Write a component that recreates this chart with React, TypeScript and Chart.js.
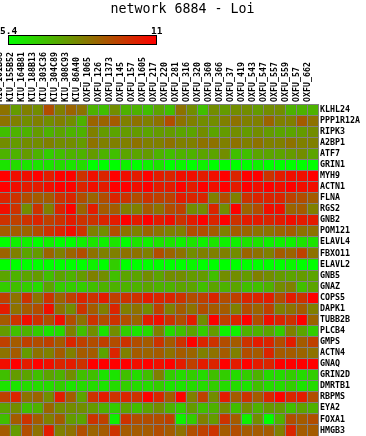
import React, { useEffect, useRef } from "react";
import { Chart, registerables } from "chart.js";

Chart.register(...registerables);

const TITLE = "network 6884 - Loi";
const SCALE_MIN = 5.4;
const SCALE_MAX = 11;
const scaleLabels = ["5.4", "11"];

const columns = [
  "KIU_101B88", "KIU_155B52", "KIU_164B81", "KIU_188B13", "KIU_303C36", "KIU_304C89",
  "KIU_308C93", "KIU_86A40", "OXFU_1065", "OXFU_126", "OXFU_1373", "OXFU_145",
  "OXFU_157", "OXFU_1605", "OXFU_217", "OXFU_220", "OXFU_281", "OXFU_316",
  "OXFU_320", "OXFU_360", "OXFU_366", "OXFU_37", "OXFU_419", "OXFU_543",
  "OXFU_547", "OXFU_557", "OXFU_559", "OXFU_57", "OXFU_662",
];

const genes = [
  "KLHL24", "PPP1R12A", "RIPK3", "A2BP1", "ATF7", "GRIN1", "MYH9", "ACTN1", "FLNA", "RGS2",
  "GNB2", "POM121", "ELAVL4", "FBXO11", "ELAVL2", "GNB5", "GNAZ", "COPS5", "DAPK1", "TUBB2B",
  "PLCB4", "GMPS", "ACTN4", "GNAQ", "GRIN2D", "DMRTB1", "RBPMS", "EYA2", "FOXA1", "HMGB3",
];

const KLHL24 = [8.5,7.6,8.2,7.9,9.3,8.2,8.8,8.5,7.1,6.8,7.9,7.1,7.1,6.8,7.4,6.8,8.5,7.9,6.8,7.9,7.6,7.9,7.9,7.6,7.9,7.9,7.1,7.1,7.1];
const PPP1R12A = [8.5,8.2,7.9,8.2,7.9,8.2,7.9,7.1,8.8,8.8,9.0,8.2,8.5,8.2,8.5,9.3,8.5,8.2,7.9,7.9,8.2,8.5,8.2,8.2,8.8,8.2,8.2,9.0,8.5];
const RIPK3 = [6.8,7.1,7.1,7.6,7.1,7.4,7.1,7.1,8.2,7.6,7.4,7.6,7.6,7.4,7.6,7.6,7.4,7.4,7.9,7.4,7.6,7.9,7.6,7.9,7.6,7.4,7.4,7.6,7.9];
const A2BP1 = [7.9,7.6,7.9,7.9,8.2,7.9,7.9,7.6,8.5,8.2,8.2,8.2,8.5,8.2,8.2,8.5,8.2,8.2,8.5,8.5,8.2,8.5,8.2,8.5,8.2,8.2,8.5,8.2,8.2];
const ATF7 = [7.1,7.1,7.6,7.1,6.5,6.8,7.1,7.1,7.6,7.1,6.8,7.4,7.4,7.6,7.1,6.8,7.1,7.1,7.4,7.4,7.9,6.8,6.8,7.4,7.4,7.4,7.6,7.9,7.4];
const GRIN1 = [6.0,6.2,6.0,6.0,6.0,6.2,6.0,6.2,5.4,5.4,5.4,5.7,5.4,5.7,6.0,5.4,5.6,5.4,5.7,5.4,5.4,5.4,5.4,5.7,5.4,5.4,5.4,5.4,5.4];
const MYH9 = [11,10.7,10.7,11,10.4,11,11,9.9,10.7,10.2,11,10.7,10.4,11,10.4,10.2,10.7,10.7,10.4,10.7,11,10.2,11,11,9.9,10.4,10.7,10.7,11];
const ACTN1 = [11,10.7,10.4,10.4,10.7,11,11,10.2,10.7,10.4,11,11,10.7,11,10.4,10.4,11,10.4,11,10.7,11,10.4,11,10.7,11,10.7,11,10.7,10.7];
const FLNA = [10.2,9.9,9.3,9.0,9.0,9.9,10.2,9.3,8.8,9.3,10.2,9.9,9.3,9.9,9.6,9.6,10.4,10.2,10.2,8.2,9.3,8.2,9.9,10.2,10.2,10.2,9.6,9.3,9.0];
const RGS2 = [10.7,9.9,7.9,9.9,8.2,10.2,11,8.8,10.4,9.0,9.0,8.2,8.2,9.0,8.5,9.3,9.6,7.9,7.9,10.2,7.9,11,8.8,9.3,10.7,10.7,8.8,9.0,8.2];
const GNB2 = [9.9,9.6,9.9,10.2,9.6,9.9,10.4,9.9,9.9,10.2,10.4,11,10.4,11,10.4,10.7,9.9,10.4,11,10.2,11,9.9,10.4,10.4,10.2,10.4,10.7,10.4,10.4];
const POM121 = [9.0,9.0,8.8,9.3,9.9,10.2,10.7,9.9,8.2,7.9,9.3,8.5,8.2,8.8,8.5,8.2,8.2,9.3,9.3,9.0,8.2,9.0,8.8,8.5,8.5,8.8,9.0,8.5,8.5];
const ELAVL4 = [5.4,5.7,5.7,5.4,5.7,5.4,5.4,5.7,6.0,5.7,6.0,5.4,6.0,5.7,6.0,6.0,5.7,6.0,5.7,6.0,5.7,5.7,6.0,6.0,5.7,5.7,5.7,6.0,6.0];
const FBXO11 = [8.8,8.2,7.4,7.6,8.8,8.2,8.8,9.3,8.5,8.2,8.2,8.5,8.5,8.2,9.3,8.8,8.5,7.9,8.2,8.2,8.2,7.9,8.8,8.5,8.2,9.0,8.8,9.6,8.5];
const ELAVL2 = [5.4,5.4,5.4,5.4,5.4,5.4,5.4,5.4,5.7,5.4,6.5,5.4,5.4,5.4,5.4,5.4,5.4,5.6,5.4,5.4,5.4,5.4,5.4,5.4,5.4,5.4,5.6,5.4,5.4];
const GNB5 = [7.4,7.1,7.4,7.6,6.8,7.4,7.1,7.6,8.2,7.9,6.8,7.4,7.4,7.9,7.4,7.9,7.9,7.6,7.6,6.8,7.9,7.9,7.6,8.2,7.9,7.6,7.4,7.6,7.4];
const GNAZ = [6.5,6.8,6.5,6.2,7.4,6.5,6.5,6.5,6.8,7.1,7.1,7.1,7.1,7.4,7.1,7.1,7.4,7.4,6.8,7.4,7.1,7.4,6.8,6.8,7.1,7.9,8.2,6.8,7.4];
const COPS5 = [9.6,8.5,9.9,8.5,9.9,8.8,9.6,10.2,9.9,10.4,9.6,9.9,9.9,10.4,10.2,10.2,9.9,9.3,9.6,10.2,9.3,9.6,10.2,10.2,10.4,9.3,10.4,9.9,11];
const DAPK1 = [10.4,8.5,9.0,9.3,10.7,8.5,7.9,9.9,9.0,8.2,10.2,8.2,8.5,7.9,9.6,8.2,9.0,8.5,9.3,9.0,9.0,8.2,9.3,8.8,9.6,8.2,8.5,9.0,8.2];
const TUBB2B = [9.0,9.9,10.7,9.9,9.3,10.7,9.3,8.5,9.9,9.3,9.9,9.3,8.8,10.4,10.7,9.9,9.3,10.4,7.9,11,9.6,10.2,11,9.3,10.7,10.2,9.9,11,8.8];
const PLCB4 = [7.6,6.8,7.1,6.5,6.0,6.2,8.2,6.8,7.9,6.0,7.9,6.5,6.0,6.2,8.2,6.2,6.8,7.4,6.5,7.6,5.7,5.7,7.1,7.1,7.4,6.5,8.2,7.4,6.5];
const GMPS = [9.6,9.0,9.6,9.3,9.6,9.0,10.2,9.6,9.3,9.6,9.3,9.9,9.3,9.0,9.9,9.0,9.9,11,10.2,9.9,9.3,9.0,9.9,10.4,10.2,9.3,10.4,9.0,9.6];
const ACTN4 = [8.5,9.0,7.6,8.5,8.2,9.0,8.2,9.0,9.0,7.4,10.2,8.2,9.0,8.8,9.0,8.5,9.0,8.8,8.2,8.5,9.0,8.2,9.3,9.0,10.2,9.0,9.0,8.8,8.5];
const GNAQ = [10.7,11,10.4,11,10.7,10.2,10.4,9.9,11,11,11,11,10.7,11,10.7,11,10.4,9.6,10.4,10.2,11,10.4,11,10.4,10.2,11,11,11,11];
const GRIN2D = [6.8,7.6,7.4,6.8,7.4,7.1,7.9,6.8,6.8,6.0,6.0,6.8,6.2,6.8,8.2,6.5,6.2,6.5,6.2,6.8,6.5,6.2,6.5,7.1,6.2,6.2,6.5,6.2,6.5];
const DMRTB1 = [6.0,6.0,6.2,6.2,6.2,6.5,6.0,6.2,6.2,6.0,6.2,6.5,6.2,6.2,6.5,6.0,6.0,6.2,6.2,6.5,6.2,6.2,6.0,6.8,6.2,6.2,6.5,6.0,6.2];
const RBPMS = [9.6,10.2,8.5,8.8,7.9,10.4,9.0,7.4,9.9,10.4,9.9,10.2,9.9,11,10.2,9.0,11,8.2,9.6,7.9,10.4,9.0,9.9,9.0,10.2,11,10.2,10.4,9.3];
const EYA2 = [7.4,7.9,6.8,7.1,8.8,7.9,7.9,7.9,7.6,7.1,6.5,7.4,6.8,7.4,7.9,7.1,6.5,7.6,6.8,7.1,7.9,6.8,7.9,7.1,7.6,7.6,6.8,7.4,7.1];
const FOXA1 = [6.8,9.0,9.9,9.0,8.2,9.0,7.6,7.4,9.9,9.6,5.7,9.9,9.3,9.3,9.3,9.6,5.7,6.5,8.2,7.6,9.9,9.0,5.7,7.9,5.4,7.1,9.3,9.0,9.3];
const HMGB3 = [9.0,7.6,9.3,8.5,10.4,8.2,8.5,9.3,8.8,9.0,9.9,9.0,9.0,9.0,9.3,9.0,8.5,9.3,9.6,9.9,9.0,9.3,9.0,9.0,9.0,8.2,10.2,9.0,9.0];

const rows = [
  KLHL24, PPP1R12A, RIPK3, A2BP1, ATF7, GRIN1, MYH9, ACTN1, FLNA, RGS2,
  GNB2, POM121, ELAVL4, FBXO11, ELAVL2, GNB5, GNAZ, COPS5, DAPK1, TUBB2B,
  PLCB4, GMPS, ACTN4, GNAQ, GRIN2D, DMRTB1, RBPMS, EYA2, FOXA1, HMGB3,
];

function heatColor(v: number): string {
  let t = (v - SCALE_MIN) / (SCALE_MAX - SCALE_MIN);
  t = Math.max(0, Math.min(1, t));
  const r = Math.round(255 * t);
  const g = Math.round(255 * (1 - t));
  return `rgb(${r},${g},0)`;
}

const MONO = "'DejaVu Sans Mono', 'Liberation Mono', monospace";
const GRID_GRAY = "#808080";
const LABEL_FONT = { family: MONO, size: 8.3, weight: "bold", lineHeight: "10px" } as any;

function noPad(s: any) {
  s.paddingLeft = 0;
  s.paddingRight = 0;
  s.paddingTop = 0;
  s.paddingBottom = 0;
}

export default function App() {
  const ref = useRef<HTMLCanvasElement>(null);

  useEffect(() => {
    document.body.style.margin = "0";
    const canvas = ref.current;
    if (!canvas) return;
    const ctx = canvas.getContext("2d");
    if (!ctx) return;

    const colorbarPlugin = {
      id: "colorbar",
      afterDraw(chart: any) {
        const c = chart.ctx as CanvasRenderingContext2D;
        c.save();
        const x0 = 9;
        const x1 = 157;
        const y0 = 35;
        const y1 = 44;
        const grad = c.createLinearGradient(x0, 0, x1, 0);
        grad.addColorStop(0, heatColor(SCALE_MIN));
        grad.addColorStop(1, heatColor(SCALE_MAX));
        c.fillStyle = grad;
        c.fillRect(x0, y0, x1 - x0, y1 - y0);
        c.strokeStyle = "#000";
        c.lineWidth = 1;
        c.strokeRect(x0 + 0.5, y0 + 0.5, x1 - x0, y1 - y0);
        c.fillStyle = "#000";
        c.font = `bold 9.5px ${MONO}`;
        c.textBaseline = "alphabetic";
        c.textAlign = "left";
        c.fillText(scaleLabels[0], 1, 33.5);
        c.fillText(scaleLabels[1], 152, 33.5);
        c.restore();
      },
    };

    const chart = new Chart(ctx, {
      type: "bar",
      data: {
        labels: columns,
        datasets: genes.map((g, j) => ({
          label: g,
          data: columns.map(() => [j, j + 1]) as any,
          backgroundColor: rows[j].map(heatColor),
          borderWidth: 0,
          grouped: false,
          barPercentage: 1,
          categoryPercentage: 1,
          yAxisID: "y",
          xAxisID: "x",
        })),
      },
      options: {
        responsive: false,
        animation: false,
        devicePixelRatio: 1,
        layout: { padding: 0 },
        events: [],
        plugins: {
          legend: { display: false },
          tooltip: { enabled: false },
          title: {
            display: true,
            text: TITLE,
            color: "#000",
            font: { family: MONO, size: 13.3, weight: "normal", lineHeight: "16px" } as any,
            padding: { top: 2, bottom: 0 },
          },
        },
        scales: {
          x: {
            type: "category",
            position: "top",
            offset: true,
            grid: { display: true, offset: true, color: GRID_GRAY, lineWidth: 1, drawTicks: false, z: 1 } as any,
            border: { display: false },
            ticks: {
              minRotation: 90,
              maxRotation: 90,
              autoSkip: false,
              padding: 2,
              labelOffset: 5,
              color: "#000",
              font: LABEL_FONT,
            },
            afterFit: (s: any) => {
              s.height = 86;
              noPad(s);
            },
          },
          y: {
            type: "linear",
            min: 0,
            max: genes.length,
            reverse: true,
            position: "right",
            grid: { display: true, color: GRID_GRAY, lineWidth: 1, drawTicks: false, z: 1 } as any,
            border: { display: false },
            ticks: { display: false, stepSize: 1, maxTicksLimit: 100 },
            afterFit: (s: any) => {
              s.width = 0;
              noPad(s);
            },
          },
          yLabels: {
            type: "category",
            labels: genes,
            position: "right",
            offset: true,
            grid: { display: false, drawTicks: false },
            border: { display: false },
            ticks: {
              autoSkip: false,
              padding: 2,
              color: "#000",
              font: LABEL_FONT,
            },
            afterFit: (s: any) => {
              s.width = 48;
              noPad(s);
            },
          },
        } as any,
      },
      plugins: [colorbarPlugin],
    });

    return () => chart.destroy();
  }, []);

  return (
    <canvas
      ref={ref}
      width={367}
      height={436}
      style={{ position: "fixed", left: -1, top: 0, width: 367, height: 436, display: "block" }}
    />
  );
}
